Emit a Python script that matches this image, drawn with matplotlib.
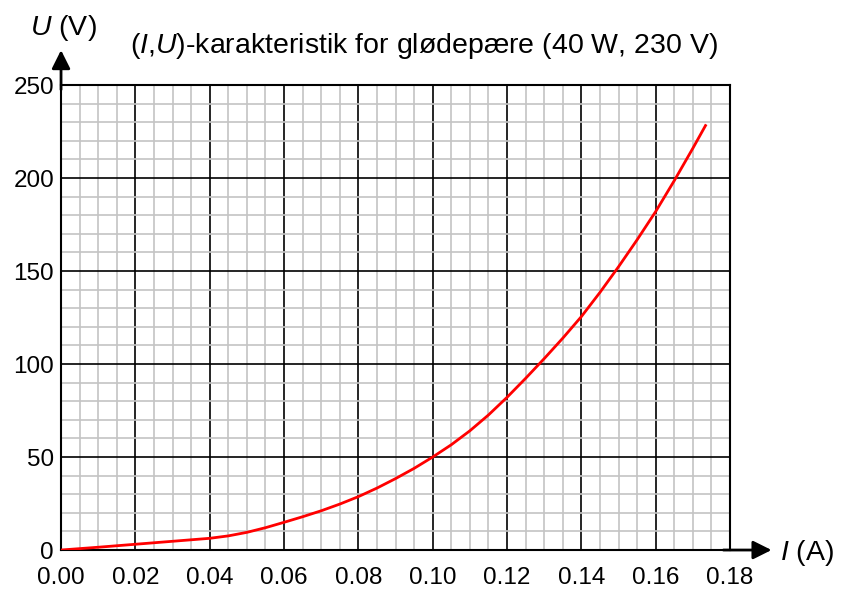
import matplotlib.pyplot as plt
import numpy as np
from matplotlib.ticker import MultipleLocator, FormatStrFormatter

# (I, U) characteristic of a 40 W / 230 V bulb
current = [0.0, 0.01, 0.02, 0.03, 0.04, 0.045, 0.05, 0.055, 0.06, 0.065,
           0.07, 0.075, 0.08, 0.085, 0.09, 0.095, 0.10, 0.105, 0.11, 0.115,
           0.12, 0.125, 0.13, 0.135, 0.14, 0.145, 0.15, 0.155, 0.16, 0.165,
           0.17, 0.1734]
voltage = [0.0, 1.5, 3.1, 4.7, 6.3, 7.6, 9.5, 12.0, 14.9, 17.9,
           21.1, 24.7, 28.7, 33.3, 38.4, 43.9, 50.0, 56.6, 64.1, 72.6,
           82.1, 92.3, 102.9, 113.9, 125.5, 138.5, 152.3, 166.8, 182.0, 198.6,
           216.0, 228.2]

title = r'($\mathit{I}$,$\mathit{U}$)-karakteristik for glødepære (40 W, 230 V)'

plt.rcParams['font.family'] = ['Liberation Sans', 'DejaVu Sans']
plt.rcParams['mathtext.fontset'] = 'custom'
plt.rcParams['mathtext.rm'] = 'Liberation Sans'
plt.rcParams['mathtext.it'] = 'Liberation Sans:italic'

fig = plt.figure(figsize=(8.43, 5.92), dpi=100)
ax = fig.add_axes([0.0724, 0.0709, 0.7936, 0.7855])

ax.plot(current, voltage, color='#ff0000', lw=2, zorder=5,
        solid_joinstyle='round')

ax.set_xlim(0, 0.18)
ax.set_ylim(0, 250)
ax.xaxis.set_major_locator(MultipleLocator(0.02))
ax.xaxis.set_minor_locator(MultipleLocator(0.005))
ax.yaxis.set_major_locator(MultipleLocator(50))
ax.yaxis.set_minor_locator(MultipleLocator(10))
ax.xaxis.set_major_formatter(FormatStrFormatter('%.2f'))

# grid: grey minor, black major
ax.set_axisbelow(True)
ax.grid(which='minor', color='#c4c4c4', lw=1.2)
ax.grid(which='major', color='black', lw=1.2)
ax.tick_params(which='both', length=0, labelsize=17.5)
ax.tick_params(axis='x', pad=12)
ax.tick_params(axis='y', pad=5)

for s in ax.spines.values():
    s.set_linewidth(1.5)

# axis arrows
arrow = dict(arrowstyle='-|>', color='black', lw=2, mutation_scale=28,
             shrinkA=0, shrinkB=0)
ax.annotate('', xy=(0, 1.075), xytext=(0, 0.99), xycoords='axes fraction',
            arrowprops=arrow, annotation_clip=False)
ax.annotate('', xy=(1.062, 0), xytext=(0.99, 0), xycoords='axes fraction',
            arrowprops=arrow, annotation_clip=False)

fig.text(0.036, 0.953, r'$\mathit{U}$ (V)', fontsize=20.5, va='center', ha='left')
fig.text(0.925, 0.066, r'$\mathit{I}$ (A)', fontsize=20.5, va='center', ha='left')
fig.text(0.5024, 0.922, title, fontsize=20.5, va='center', ha='center')

fig.savefig('out.png', dpi=100)
